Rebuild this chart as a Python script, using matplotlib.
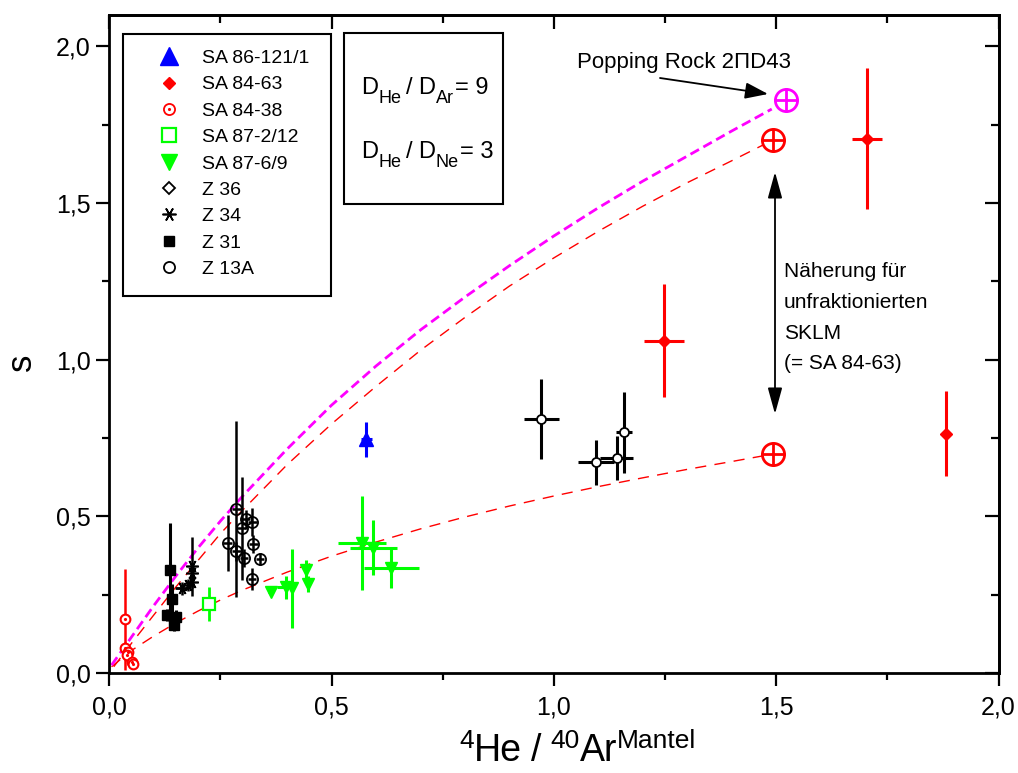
import matplotlib
matplotlib.use("Agg")
import matplotlib.pyplot as plt
import matplotlib.transforms as mtransforms
from matplotlib.lines import Line2D
from matplotlib.patches import Rectangle
from matplotlib.ticker import FixedLocator, FuncFormatter

plt.rcParams['font.family'] = ['Liberation Sans', 'DejaVu Sans']

# ---------------- data ----------------
# SA 86-121/1 (blue triangle)
sa86_x = [0.578]
sa86_y = [0.746]
sa86_xerr = [0.012]
sa86_yerr = [0.055]

# SA 84-63 (red diamonds)
sa8463_x = [1.247, 1.704, 1.883]
sa8463_y = [1.061, 1.705, 0.764]
sa8463_xerr = [0.045, 0.033, 0.0]
sa8463_yerr = [0.18, 0.225, 0.136]

# SA 84-38 (red open circle with dot)
sa8438_x = [0.035, 0.036, 0.043, 0.040, 0.050, 0.054]
sa8438_y = [0.171, 0.079, 0.068, 0.057, 0.036, 0.029]
sa8438_yerr = [0.16, 0.02, 0.02, 0.02, 0.01, 0.01]
sa8438_xerr = [0.008, 0.0, 0.0, 0.0, 0.0, 0.0]

# SA 87-2/12 (green open square)
sa87212_x = [0.224]
sa87212_y = [0.22]
sa87212_xerr = [0.012]
sa87212_yerr = [0.055]

# SA 87-6/9 (green down triangles)
sa8769_x = [0.363, 0.397, 0.410, 0.443, 0.447, 0.568, 0.594, 0.634]
sa8769_y = [0.260, 0.274, 0.270, 0.329, 0.284, 0.414, 0.400, 0.334]
sa8769_xerr = [0.005, 0.02, 0.0, 0.0, 0.0, 0.054, 0.053, 0.062]
sa8769_yerr = [0.015, 0.037, 0.127, 0.032, 0.027, 0.150, 0.087, 0.063]

# Z 36 (diamonds)
z36_x = [0.972, 1.095, 1.141, 1.158]
z36_y = [0.810, 0.673, 0.686, 0.768]
z36_xerr = [0.040, 0.040, 0.037, 0.018]
z36_yerr = [0.127, 0.072, 0.070, 0.130]

# Z 34 (asterisks)
z34_x = [0.163, 0.178, 0.187, 0.187, 0.187]
z34_y = [0.270, 0.281, 0.290, 0.318, 0.340]
z34_xerr = [0.015, 0.0, 0.0, 0.0, 0.0]
z34_yerr = [0.02, 0.02, 0.02, 0.02, 0.095]

# Z 31 (filled squares)
z31_x = [0.136, 0.140, 0.129, 0.150, 0.145]
z31_y = [0.329, 0.235, 0.185, 0.180, 0.153]
z31_yerr_lo = [0.19, 0.05, 0.02, 0.02, 0.02]
z31_yerr_hi = [0.15, 0.05, 0.02, 0.02, 0.02]

# Z 13A (open circles)
z13_x = [0.266, 0.286, 0.286, 0.298, 0.307, 0.303, 0.322, 0.324, 0.339, 0.321]
z13_y = [0.414, 0.523, 0.388, 0.462, 0.490, 0.367, 0.483, 0.412, 0.364, 0.300]
z13_xerr = [0.01] * 10
z13_yerr = [0.09, 0.28, 0.03, 0.165, 0.03, 0.03, 0.045, 0.03, 0.02, 0.035]

# end members (crossed circles)
end_red_x = [1.493, 1.493]
end_red_y = [1.70, 0.70]
end_mag_x = [1.522]
end_mag_y = [1.83]

# mixing curves
curve_mag_x = [0.005, 0.05, 0.10, 0.15, 0.20, 0.25, 0.30, 0.40, 0.50, 0.60, 0.70,
               0.80, 0.90, 1.00, 1.10, 1.20, 1.30, 1.40, 1.49]
curve_mag_y = [0.025, 0.115, 0.215, 0.31, 0.40, 0.485, 0.565, 0.715, 0.855, 0.98, 1.095,
               1.20, 1.30, 1.395, 1.485, 1.57, 1.65, 1.73, 1.80]
curve_red1_x = [0.01, 0.05, 0.10, 0.15, 0.20, 0.25, 0.30, 0.40, 0.50, 0.60, 0.70,
                0.80, 0.90, 1.00, 1.10, 1.20, 1.30, 1.40, 1.47]
curve_red1_y = [0.02, 0.095, 0.185, 0.275, 0.36, 0.445, 0.52, 0.665, 0.795, 0.915, 1.03,
                1.135, 1.235, 1.325, 1.41, 1.49, 1.565, 1.635, 1.685]
curve_red2_x = [0.005, 0.05, 0.10, 0.15, 0.20, 0.25, 0.30, 0.40, 0.50, 0.60, 0.70, 0.80,
                0.90, 1.00, 1.10, 1.20, 1.30, 1.40, 1.47]
curve_red2_y = [0.02, 0.072, 0.118, 0.16, 0.198, 0.233, 0.265, 0.322, 0.373, 0.418, 0.46,
                0.498, 0.533, 0.565, 0.595, 0.623, 0.65, 0.675, 0.693]

xticks = [0.0, 0.5, 1.0, 1.5, 2.0]
yticks = [0.0, 0.5, 1.0, 1.5, 2.0]
xminor = [0.25, 0.75, 1.25, 1.75]
yminor = [0.25, 0.75, 1.25, 1.75]

legend_labels = ['SA 86-121/1', 'SA 84-63', 'SA 84-38', 'SA 87-2/12', 'SA 87-6/9',
                 'Z 36', 'Z 34', 'Z 31', 'Z 13A']

RED = '#ff0000'
GREEN = '#00ff00'
BLUE = '#0000ff'
MAG = '#ff00ff'
ASTER = (6, 2, 90)

# ---------------- figure ----------------
W, H = 1018, 773
fig = plt.figure(figsize=(W / 100, H / 100), dpi=100)
L, R, T, B = 109.3, 998.5, 15, 673
XS = (R - L) / 2.0
YS = 313.3
ax = fig.add_axes([L / W, 1 - B / H, (R - L) / W, (B - T) / H])
ax.set_xlim(0, 2.0)
ax.set_ylim(0, (B - T) / YS)


def px2d(px, py):
    return (px - L) / XS, (B - py) / YS


def px2a(px, py):
    return (px - L) / (R - L), (B - py) / (B - T)


# curves
ax.plot(curve_red2_x, curve_red2_y, color=RED, lw=1.0, dashes=(8, 6), zorder=2)
ax.plot(curve_red1_x, curve_red1_y, color=RED, lw=1.0, dashes=(8, 6), zorder=2)
ax.plot(curve_mag_x, curve_mag_y, color=MAG, lw=2.0, dashes=(3.5, 1.8), zorder=2)

eb = dict(capsize=0, linestyle='none', zorder=4)

ax.errorbar(sa86_x, sa86_y, xerr=sa86_xerr, yerr=sa86_yerr, fmt='^', color=BLUE,
            ms=10, elinewidth=2.2, **eb)
ax.errorbar(sa8463_x, sa8463_y, xerr=sa8463_xerr, yerr=sa8463_yerr, fmt='D', color=RED,
            ms=6.5, elinewidth=2.2, **eb)
ax.errorbar(sa8438_x, sa8438_y, xerr=sa8438_xerr, yerr=sa8438_yerr, fmt='o', color=RED,
            mfc='white', mec=RED, mew=1.5, ms=7, elinewidth=1.8, **eb)
ax.plot(sa8438_x, sa8438_y, '.', color=RED, ms=2.5, zorder=5)
ax.errorbar(sa87212_x, sa87212_y, xerr=sa87212_xerr, yerr=sa87212_yerr, fmt='s', color=GREEN,
            mfc='white', mec=GREEN, mew=1.6, ms=8.5, elinewidth=2.0, **eb)
ax.errorbar(sa8769_x, sa8769_y, xerr=sa8769_xerr, yerr=sa8769_yerr, fmt='v', color=GREEN,
            ms=8, elinewidth=2.2, **eb)
ax.errorbar(z36_x, z36_y, xerr=z36_xerr, yerr=z36_yerr, fmt='o', color='black',
            mfc='white', mec='black', mew=1.3, ms=6.5, elinewidth=2.2, **eb)
ax.errorbar(z34_x, z34_y, xerr=z34_xerr, yerr=z34_yerr, fmt='none', ecolor='black',
            elinewidth=1.8, capsize=0, zorder=4)
ax.plot(z34_x, z34_y, linestyle='none', marker=ASTER, color='black', ms=9, mew=1.2, zorder=5)
ax.errorbar(z31_x, z31_y, yerr=[z31_yerr_lo, z31_yerr_hi], fmt='s', color='black',
            ms=7, elinewidth=2.2, **eb)
ax.errorbar(z13_x, z13_y, xerr=z13_xerr, yerr=z13_yerr, fmt='o', color='black',
            mfc='none', mec='black', mew=1.3, ms=8, elinewidth=1.8, **eb)

# end members (crossed circles)
for xs, ys, c in ((end_red_x, end_red_y, RED), (end_mag_x, end_mag_y, MAG)):
    ax.plot(xs, ys, linestyle='none', marker='o', mfc='white', mec=c, mew=2.0, ms=16, zorder=6)
    ax.plot(xs, ys, linestyle='none', marker='+', color=c, mew=2.0, ms=16, zorder=7)

# ---------------- ticks / spines ----------------
fmt = FuncFormatter(lambda v, p: f"{v:.1f}".replace('.', ','))
ax.xaxis.set_major_locator(FixedLocator(xticks))
ax.yaxis.set_major_locator(FixedLocator(yticks))
ax.xaxis.set_minor_locator(FixedLocator(xminor))
ax.yaxis.set_minor_locator(FixedLocator(yminor))
ax.xaxis.set_major_formatter(fmt)
ax.yaxis.set_major_formatter(fmt)
ax.tick_params(which='major', direction='out', length=9.5, width=1.6, labelsize=18,
               top=False, right=False)
ax.tick_params(axis='x', which='major', pad=7)
ax.tick_params(axis='y', which='major', pad=4)
ax.tick_params(which='minor', direction='out', length=5, width=1.6, top=False, right=False)
for s in ax.spines.values():
    s.set_linewidth(2.0)

secx = ax.secondary_xaxis('top')
secx.xaxis.set_major_locator(FixedLocator(xticks))
secx.xaxis.set_minor_locator(FixedLocator(xminor))
secx.tick_params(axis='x', which='major', direction='in', length=10, width=1.6,
                 labeltop=False, labelbottom=False)
secx.tick_params(axis='x', which='minor', direction='in', length=5.5, width=1.6)
secx.spines['top'].set_linewidth(2.0)
secy = ax.secondary_yaxis('right')
secy.yaxis.set_major_locator(FixedLocator(yticks))
secy.yaxis.set_minor_locator(FixedLocator(yminor))
secy.tick_params(axis='y', which='major', direction='in', length=10, width=1.6,
                 labelright=False, labelleft=False)
secy.tick_params(axis='y', which='minor', direction='in', length=5.5, width=1.6)
secy.spines['right'].set_linewidth(2.0)

renderer = fig.canvas.get_renderer()
ident = mtransforms.IdentityTransform()


def place_pieces(pieces, x_px, baseline_px, align='left', zorder=10):
    """pieces: (text, fontsize, dy_px, gap_px_before). Pixel coords from top-left."""
    objs = []
    total = 0.0
    for s, size, dy, gap in pieces:
        t = fig.text(0, 0, s, fontsize=size, ha='left', va='baseline',
                     transform=ident, zorder=zorder)
        w = t.get_window_extent(renderer).width
        objs.append((t, w, dy, gap))
        total += gap + w
    x = x_px - total / 2 if align == 'center' else x_px
    for t, w, dy, gap in objs:
        x += gap
        t.set_position((x, H - baseline_px + dy))
        x += w


# axis labels
place_pieces([('4', 19, 13, 0), ('He', 27, 0, 0), ('/', 27, 0, 9), ('40', 19, 13, 9),
              ('Ar', 27, 0, 0), ('Mantel', 19, 13, 0)], 578, 761, align='center')
fig.text(21 / W, 1 - 362 / H, 's', fontsize=25, rotation=90, ha='center', va='center')

# ---------------- legend ----------------
handles = [
    Line2D([], [], linestyle='none', marker='^', color=BLUE, ms=13),
    Line2D([], [], linestyle='none', marker='D', color=RED, ms=6.5),
    (Line2D([], [], linestyle='none', marker='o', mfc='white', mec=RED, mew=1.3, ms=8),
     Line2D([], [], linestyle='none', marker='.', color=RED, ms=2.5)),
    Line2D([], [], linestyle='none', marker='s', mfc='white', mec=GREEN, mew=1.6, ms=9.5),
    Line2D([], [], linestyle='none', marker='v', color=GREEN, ms=11),
    Line2D([], [], linestyle='none', marker='D', mfc='white', mec='black', mew=1.3, ms=6.5),
    Line2D([], [], linestyle='none', marker=ASTER, color='black', mew=1.2, ms=10),
    Line2D([], [], linestyle='none', marker='s', color='black', ms=7.5),
    Line2D([], [], linestyle='none', marker='o', mfc='white', mec='black', mew=1.3, ms=8),
]
lb0 = px2a(122.7, 296)
lb1 = px2a(331, 34)
ax.add_patch(Rectangle(lb0, lb1[0] - lb0[0], lb1[1] - lb0[1], transform=ax.transAxes,
                       facecolor='white', edgecolor='black', lw=1.5, zorder=9))
leg = ax.legend(handles, legend_labels, loc='upper left',
                bbox_to_anchor=px2a(149.6, 49.5),
                borderaxespad=0, fontsize=14, frameon=False, handlelength=2.0,
                handletextpad=0.7, borderpad=0, labelspacing=0.45)
leg.set_zorder(10)

# ---------------- text box ----------------
bx0 = px2a(344, 204)
bx1 = px2a(503, 33.3)
ax.add_patch(Rectangle(bx0, bx1[0] - bx0[0], bx1[1] - bx0[1], transform=ax.transAxes,
                       facecolor='white', edgecolor='black', lw=1.5, zorder=9))
place_pieces([('D', 17, 0, 0), ('He', 13, -9, 1), ('/', 17, 0, 4), ('D', 17, 0, 5),
              ('Ar', 13, -9, 1), ('= 9', 17, 0, 1)], 361, 94)
place_pieces([('D', 17, 0, 0), ('He', 13, -9, 1), ('/', 17, 0, 4), ('D', 17, 0, 5),
              ('Ne', 13, -9, 1), ('= 3', 17, 0, 1)], 361, 158)

# ---------------- annotations ----------------
px_, py_ = px2d(577, 68)
ax.text(px_, py_, 'Popping Rock 2\u03a0D43', fontsize=16, ha='left', va='baseline')
a0 = px2d(660, 78)
a1 = px2d(768, 94)
ax.annotate('', xy=a1, xytext=a0,
            arrowprops=dict(arrowstyle='-|>,head_length=0.7,head_width=0.25', color='black',
                            lw=1.3, mutation_scale=20, shrinkA=0, shrinkB=0))
d0 = px2d(775, 172)
d1 = px2d(775, 414)
ax.annotate('', xy=d1, xytext=d0,
            arrowprops=dict(arrowstyle='<|-|>,head_length=0.8,head_width=0.22', color='black',
                            lw=1.3, mutation_scale=20, shrinkA=0, shrinkB=0))
lines = ['N\u00e4herung f\u00fcr', 'unfraktionierten', 'SKLM', '(= SA 84-63)']
baselines = [277, 308, 338.5, 368.5]
for txt, bl in zip(lines, baselines):
    x_, y_ = px2d(784, bl)
    ax.text(x_, y_, txt, fontsize=15, ha='left', va='baseline')

fig.savefig('out.png', dpi=100)
